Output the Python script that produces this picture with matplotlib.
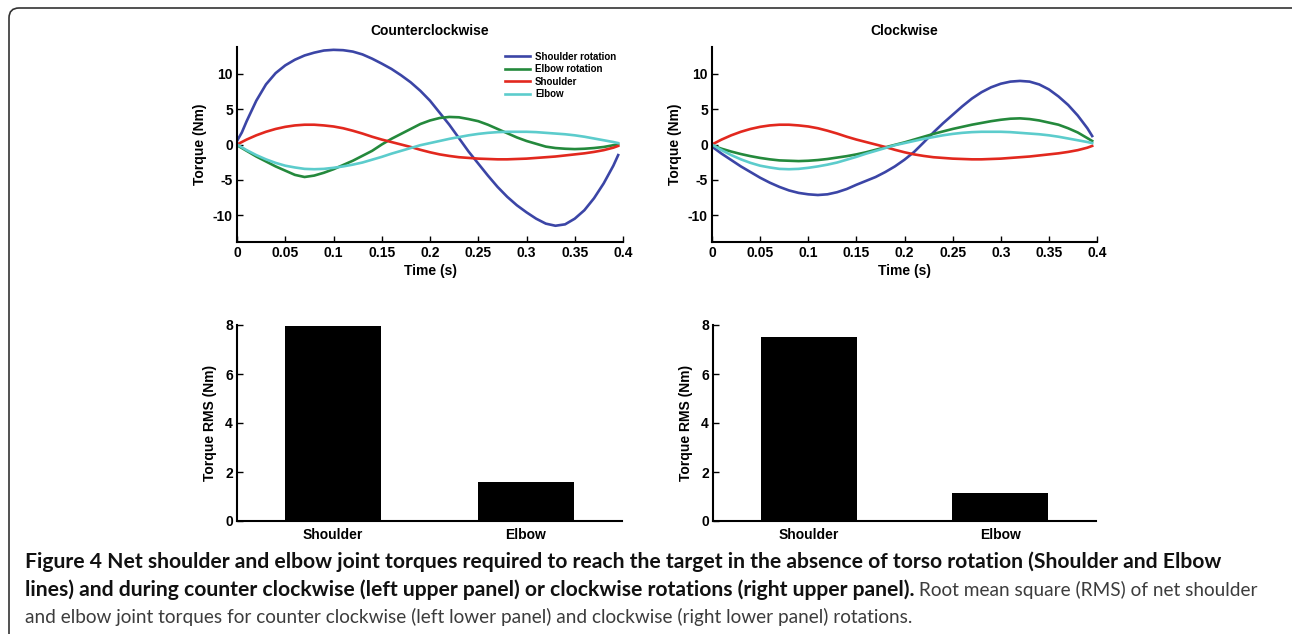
import numpy as np
import matplotlib
matplotlib.use('Agg')
import matplotlib.pyplot as plt
from matplotlib import font_manager
from matplotlib.patches import FancyBboxPatch
from matplotlib.transforms import IdentityTransform

# time grid (s)
t = [0, 0.005, 0.01, 0.02, 0.03, 0.04, 0.05, 0.06, 0.07, 0.08, 0.09, 0.10,
     0.11, 0.12, 0.13, 0.14, 0.15, 0.16, 0.17, 0.18, 0.19, 0.20, 0.21, 0.22,
     0.23, 0.24, 0.25, 0.26, 0.27, 0.28, 0.29, 0.30, 0.31, 0.32, 0.33, 0.34,
     0.35, 0.36, 0.37, 0.38, 0.39, 0.395]

# counterclockwise
ccw_shoulder_rot = [0.5, 1.7, 3.3, 6.2, 8.5, 10.1, 11.2, 12.0, 12.6, 13.0, 13.3, 13.4,
                    13.35, 13.15, 12.75, 12.15, 11.45, 10.7, 9.8, 8.8, 7.6, 6.2, 4.5, 2.8,
                    0.9, -1.0, -2.7, -4.4, -6.0, -7.4, -8.6, -9.6, -10.5, -11.2, -11.5, -11.3,
                    -10.5, -9.3, -7.6, -5.5, -3.0, -1.5]
ccw_elbow_rot = [-0.1, -0.5, -0.9, -1.7, -2.4, -3.1, -3.7, -4.3, -4.6, -4.4, -4.0, -3.5,
                 -2.9, -2.3, -1.6, -0.9, 0.0, 0.8, 1.5, 2.2, 2.9, 3.4, 3.75, 3.9,
                 3.85, 3.6, 3.3, 2.8, 2.2, 1.6, 1.0, 0.5, 0.1, -0.3, -0.5, -0.6,
                 -0.65, -0.6, -0.5, -0.35, -0.1, 0.0]
# clockwise
cw_shoulder_rot = [-0.3, -0.8, -1.3, -2.2, -3.1, -3.9, -4.7, -5.4, -6.0, -6.5, -6.85, -7.05,
                   -7.15, -7.05, -6.75, -6.3, -5.7, -5.15, -4.6, -3.9, -3.1, -2.15, -1.05, 0.3,
                   1.7, 3.0, 4.2, 5.4, 6.5, 7.4, 8.1, 8.6, 8.9, 9.0, 8.9, 8.5,
                   7.8, 6.8, 5.6, 4.1, 2.3, 1.2]
cw_elbow_rot = [-0.1, -0.35, -0.6, -1.0, -1.35, -1.65, -1.9, -2.1, -2.25, -2.3, -2.35, -2.3,
                -2.2, -2.05, -1.85, -1.65, -1.4, -1.1, -0.75, -0.4, -0.05, 0.3, 0.7, 1.1,
                1.5, 1.85, 2.2, 2.5, 2.8, 3.05, 3.3, 3.5, 3.65, 3.7, 3.6, 3.4,
                3.1, 2.8, 2.3, 1.7, 0.9, 0.5]
# no torso rotation (same in both panels)
shoulder = [0.0, 0.35, 0.7, 1.3, 1.8, 2.2, 2.5, 2.7, 2.8, 2.8, 2.7, 2.55,
            2.3, 1.95, 1.55, 1.1, 0.7, 0.35, 0.0, -0.35, -0.75, -1.1, -1.4, -1.62,
            -1.8, -1.9, -2.0, -2.05, -2.1, -2.1, -2.05, -2.0, -1.9, -1.8, -1.7, -1.55,
            -1.4, -1.25, -1.05, -0.8, -0.45, -0.2]
elbow = [0.0, -0.4, -0.8, -1.5, -2.1, -2.6, -3.0, -3.25, -3.45, -3.5, -3.45, -3.3,
         -3.1, -2.85, -2.55, -2.15, -1.75, -1.3, -0.9, -0.5, -0.1, 0.2, 0.5, 0.8,
         1.05, 1.3, 1.5, 1.65, 1.75, 1.8, 1.8, 1.8, 1.75, 1.65, 1.55, 1.45,
         1.3, 1.1, 0.85, 0.6, 0.35, 0.2]

bar_names = ['Shoulder', 'Elbow']
rms_ccw = [7.95, 1.6]
rms_cw = [7.5, 1.15]

xtick_vals = [0, 0.05, 0.1, 0.15, 0.2, 0.25, 0.3, 0.35, 0.4]
xtick_labels = ['0', '0.05', '0.1', '0.15', '0.2', '0.25', '0.3', '0.35', '0.4']

c_blue = '#3b45a6'
c_green = '#24893c'
c_red = '#e2281e'
c_cyan = '#5ccccc'

available = set(f.name for f in font_manager.fontManager.ttflist)
plt.rcParams['font.family'] = 'Liberation Sans' if 'Liberation Sans' in available else 'DejaVu Sans'
plt.rcParams['font.weight'] = 'bold'
plt.rcParams['axes.unicode_minus'] = False

W, H = 1292, 634
fig = plt.figure(figsize=(W / 100, H / 100), dpi=100)

def px_axes(l, r, top, bot):
    return fig.add_axes([l / W, 1 - bot / H, (r - l) / W, (bot - top) / H])

def style(ax):
    ax.spines['top'].set_visible(False)
    ax.spines['right'].set_visible(False)
    for s in ['left', 'bottom']:
        ax.spines[s].set_linewidth(1.5)
    ax.tick_params(direction='in', length=4, width=1, labelsize=10, pad=3)
    for lab in ax.get_xticklabels() + ax.get_yticklabels():
        lab.set_fontweight('bold')

ax1 = px_axes(237, 623, 47, 242)
ax2 = px_axes(712, 1097, 47, 242)
for ax, srot, erot, title in [(ax1, ccw_shoulder_rot, ccw_elbow_rot, 'Counterclockwise'),
                              (ax2, cw_shoulder_rot, cw_elbow_rot, 'Clockwise')]:
    ax.plot(t, srot, color=c_blue, lw=1.9, label='Shoulder rotation')
    ax.plot(t, erot, color=c_green, lw=1.9, label='Elbow rotation')
    ax.plot(t, shoulder, color=c_red, lw=1.9, label='Shoulder')
    ax.plot(t, elbow, color=c_cyan, lw=1.9, label='Elbow')
    ax.set_xlim(0, 0.4)
    ax.set_ylim(-13.8, 13.8)
    ax.set_xticks(xtick_vals)
    ax.set_xticklabels(xtick_labels)
    ax.set_yticks([-10, -5, 0, 5, 10])
    ax.set_title(title, fontsize=10, fontweight='bold', pad=8.5)
    ax.set_xlabel('Time (s)', fontsize=10, fontweight='bold', labelpad=3)
    ax.set_ylabel('Torque (Nm)', fontsize=10, fontweight='bold', labelpad=4)
    style(ax)

ax1.legend(loc='upper left', bbox_to_anchor=(0.694, 0.975), frameon=False,
           prop={'size': 7, 'weight': 'bold'}, handlelength=2.6, handletextpad=0.5,
           labelspacing=0.25, borderpad=0, borderaxespad=0)

ax3 = px_axes(237, 622, 325, 521)
ax4 = px_axes(713, 1096, 325, 521)
for ax, vals in [(ax3, rms_ccw), (ax4, rms_cw)]:
    ax.bar([1, 2], vals, width=0.5, color='black')
    ax.set_xlim(0.5, 2.5)
    ax.set_ylim(0, 8)
    ax.set_xticks([1, 2])
    ax.set_xticklabels(bar_names)
    ax.set_yticks([0, 2, 4, 6, 8])
    ax.set_ylabel('Torque RMS (Nm)', fontsize=10, fontweight='bold', labelpad=6)
    style(ax)
    ax.tick_params(axis='x', length=0, labelsize=10, pad=5)

# frame around the figure
frame = FancyBboxPatch((9, -20), 1300, H - 8 + 20, boxstyle='round,pad=0,rounding_size=10',
                       transform=IdentityTransform(), fill=False, edgecolor='#333333',
                       lw=1.2, clip_on=False)
fig.patches.append(frame)

# caption
cap_font = 'Open Sans'
for cand in ['Liberation Sans Narrow', 'Lato', 'Open Sans']:
    if cand in available:
        cap_font = cand
        break

line1 = ('Figure 4 Net shoulder and elbow joint torques required to reach the target '
         'in the absence of torso rotation (Shoulder and Elbow')
line2b = ('lines) and during counter clockwise (left upper panel) or clockwise rotations '
          '(right upper panel).')
line2n = ' Root mean square (RMS) of net shoulder'
line3 = ('and elbow joint torques for counter clockwise (left lower panel) and '
         'clockwise (right lower panel) rotations.')

renderer = fig.canvas.get_renderer()

def fit_size(txt, weight, target):
    probe = fig.text(0, 0, txt, fontsize=14, family=cap_font, fontweight=weight)
    w = probe.get_window_extent(renderer).width
    probe.remove()
    return 14 * target / w

size_b = fit_size(line1, 'bold', 1207)
size_n = fit_size(line3, 'normal', 725)
size_n = max(size_n, 0.9 * size_b)

x0 = 25 / W
fig.text(x0, 1 - 562 / H, line1, fontsize=size_b, family=cap_font,
         fontweight='bold', va='center', color='#111111')
tb = fig.text(x0, 1 - 590 / H, line2b, fontsize=size_b, family=cap_font,
              fontweight='bold', va='center', color='#111111')
bw = tb.get_window_extent(renderer).width
fig.text(x0 + bw / W, 1 - 590 / H, line2n, fontsize=size_n, family=cap_font,
         fontweight='normal', va='center', color='#3c3c3c')
fig.text(x0, 1 - 617 / H, line3, fontsize=size_n, family=cap_font,
         fontweight='normal', va='center', color='#3c3c3c')

fig.savefig('out.png', dpi=100)
